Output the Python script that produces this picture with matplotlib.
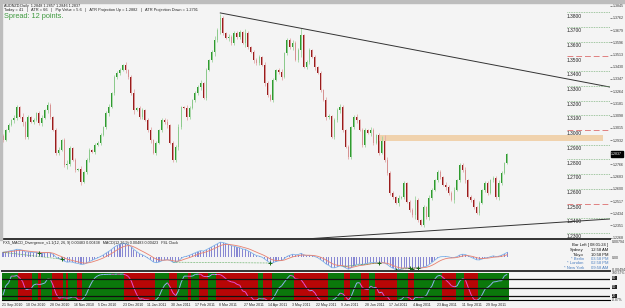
import numpy as np
import matplotlib.pyplot as plt
from matplotlib.patches import Rectangle
from matplotlib.collections import LineCollection

plt.rcParams['font.family'] = ['Liberation Sans', 'DejaVu Sans']

# daily closes (AUDNZD, Sep 2010 - Oct 2011)
closes = [
    1.2932, 1.3000, 1.3034, 1.3068, 1.3082, 1.3156, 1.3088, 1.3054, 1.2952, 1.3088,
    1.3054, 1.3068, 1.3116, 1.3048, 1.3082, 1.3136, 1.3170, 1.3088, 1.3000, 1.2844,
    1.2864, 1.2932, 1.2762, 1.2770, 1.2878, 1.2796, 1.2728, 1.2735, 1.2646, 1.2714,
    1.2796, 1.2864, 1.2850, 1.2898, 1.2912, 1.2966, 1.3020, 1.3116, 1.3156, 1.3252,
    1.3360, 1.3388, 1.3408, 1.3442, 1.3408, 1.3360,
    1.3252, 1.3136, 1.3150, 1.3088, 1.3136, 1.3068, 1.3000, 1.2932, 1.2844, 1.2912,
    1.3000, 1.3068, 1.3054, 1.3034, 1.2912, 1.2796, 1.2884, 1.3020, 1.3156, 1.3150,
    1.3088, 1.3150, 1.3204, 1.3252, 1.3292, 1.3320, 1.3218, 1.3408, 1.3476, 1.3530,
    1.3612, 1.3680, 1.3762, 1.3660, 1.3626, 1.3632, 1.3592, 1.3660, 1.3632, 1.3666,
    1.3592, 1.3660, 1.3564, 1.3530, 1.3476,
    1.3456, 1.3496, 1.3442, 1.3320, 1.3238, 1.3204, 1.3340, 1.3408, 1.3394, 1.3360,
    1.3524, 1.3612, 1.3564, 1.3592, 1.3476, 1.3544, 1.3646, 1.3428, 1.3462, 1.3544,
    1.3496, 1.3428, 1.3388, 1.3272, 1.3204, 1.3088, 1.3095, 1.2952, 1.3068, 1.3136,
    1.3156, 1.3000, 1.2884, 1.2816, 1.3020, 1.3088, 1.3068, 1.3000, 1.2898, 1.3000,
    1.2980, 1.3000, 1.2912, 1.2966, 1.2844,
    1.2952, 1.2796, 1.2708, 1.2572, 1.2544, 1.2504, 1.2538, 1.2544, 1.2640, 1.2510,
    1.2456, 1.2422, 1.2524, 1.2388, 1.2354, 1.2476, 1.2408, 1.2538, 1.2592, 1.2660,
    1.2714, 1.2680, 1.2626, 1.2612, 1.2572, 1.2524, 1.2592, 1.2660, 1.2762, 1.2728,
    1.2660, 1.2544, 1.2524, 1.2476, 1.2436, 1.2504, 1.2592, 1.2640, 1.2572, 1.2660,
    1.2674, 1.2544, 1.2640, 1.2708, 1.2776, 1.2837,
]
first_open = 1.2960
# indicator state carried in from before the first bar (prior uptrend)
prior_fast = 1.2890
prior_slow = 1.2840

# shadow length beyond the body, in pips
wick_pips = [
    12, 9, 15, 8, 20, 11, 7, 25, 10, 14, 9, 16, 8, 12,
    18, 10, 22, 14, 9, 13, 17, 8, 11, 24, 12, 9, 15, 10,
    19, 8, 13, 11, 7, 14, 10, 16, 9, 12, 20, 8, 15, 11,
    13, 9, 18, 10, 12, 27, 9, 14, 11, 8, 16, 21, 10, 13,
    9, 15, 12, 18, 8, 11, 14, 22, 10, 9, 17, 12, 8, 15,
    11, 20, 9, 13, 10, 16, 24, 12, 28, 14, 8, 19, 11, 13,
    10, 15, 9, 28, 12, 8, 17, 11, 14, 9, 22, 13, 10, 16,
    8, 12, 18, 9, 14, 11, 20, 10, 13, 45, 9, 15, 12, 8,
    17, 10, 14, 9, 21, 12, 8, 15, 11, 18, 13, 9, 16, 10,
    12, 23, 9, 14, 11, 8, 19, 13, 10, 15, 9, 12, 17, 11,
    14, 8, 20, 10, 13, 9, 16, 12, 25, 11, 9, 14, 10, 18,
    12, 9, 15, 11, 8, 21, 13, 10, 17, 9, 14, 12, 19, 8,
    11, 16, 10, 13, 9, 15, 12, 8, 14, 10, 18, 11, 9, 7,
]

levels = [1.2300, 1.2400, 1.2500, 1.2600, 1.2700, 1.2800, 1.2900, 1.3000,
          1.3100, 1.3200, 1.3300, 1.3400, 1.3500, 1.3600, 1.3700, 1.3800]
red_levels = [1.2500, 1.3000, 1.3500]
scale_ticks = [1.3845, 1.3762, 1.3679, 1.3596, 1.3513, 1.3430, 1.3347, 1.3264,
               1.3181, 1.3098, 1.3015, 1.2932, 1.2766, 1.2683, 1.2600, 1.2517,
               1.2434, 1.2351, 1.2268]
last_price = "1.2837"

# trend lines (bar, price) and supply zone
upper_line = ([78, 217.9], [1.3796, 1.3292])
lower_line = ([103, 217.9], [1.2252, 1.2395])
zone_bars = (135, 215.4)
zone_prices = (1.2925, 1.2966)

date_labels = ['21 Sep 2010', '10 Oct 2010', '28 Oct 2010', '16 Nov 2010', '5 Dec 2010',
               '23 Dec 2010', '11 Jan 2011', '30 Jan 2011', '17 Feb 2011', '8 Mar 2011',
               '27 Mar 2011', '14 Apr 2011', '3 May 2011', '22 May 2011', '9 Jun 2011',
               '28 Jun 2011', '17 Jul 2011', '4 Aug 2011', '23 Aug 2011', '11 Sep 2011',
               '29 Sep 2011']
date_step = 8.69

div_lines = [(0, 21), (61, 96), (122, 135), (141, 149)]
div_marks = [13, 21, 96, 135, 141, 146, 147, 149]

clock_names = ['Sydney', 'Tokyo', '* Berlin', '* London', '* New York']
clock_times = ['12:58 AM', '10:58 PM', '03:58 PM', '02:58 PM', '09:58 AM']

# ---- candles
c = np.array(closes)
o = np.r_[first_open, c[:-1]]
w = np.array(wick_pips) * 0.0001
hi = np.maximum(o, c) + w
lo = np.minimum(o, c) - w
n = len(c)
x = np.arange(n)
up = c >= o

W, H = 625, 308
fig = plt.figure(figsize=(W / 100, H / 100), dpi=100, facecolor='#f4f4f4')
bg = '#f4f4f4'


def rect(y0, y1):
    return [2 / W, 1 - y1 / H, 608 / W, (y1 - y0) / H]


xlim = (-0.36, 217.9)

ax = fig.add_axes(rect(4, 239))
ax.set_facecolor(bg)
ax.set_xlim(*xlim)
ax.set_ylim(1.22588, 1.38568)

ax.vlines(x, lo, hi, colors=np.where(up, '#9fd49f', '#e3a9a9'), lw=0.6)
body = np.maximum(np.abs(c - o), 0.0004)
ax.bar(x, body, bottom=np.minimum(o, c), width=0.55,
       color=np.where(up, '#2f9a2f', '#981c1c'), lw=0)

ax.plot(*upper_line, color='#333333', lw=0.7)
ax.plot(*lower_line, color='#333333', lw=0.7)
ax.fill_between(zone_bars, zone_prices[0], zone_prices[1], color='#f0d2ad', lw=0)

for lv in levels:
    if lv in red_levels:
        ax.axhline(lv, xmin=0.929, xmax=1, color='#e08080', lw=0.7, dashes=(6, 3))
    else:
        ax.axhline(lv, xmin=0.929, xmax=1, color='#6aa86a', lw=0.6, dashes=(0.8, 1.2))
    ax.text(0.929, lv - 0.0008, f'{lv:.4f}', transform=ax.get_yaxis_transform(),
            fontsize=3.5, va='top', ha='left', color='#222222')

ax.yaxis.tick_right()
ax.set_yticks(scale_ticks)
ax.set_yticklabels([f'{t:.4f}' for t in scale_ticks])
ax.tick_params(axis='y', labelsize=2.6, length=1.5, width=0.4, pad=0.8, colors='#333333')
ax.set_xticks([])
ax.text(1.002, c[-1], last_price, transform=ax.get_yaxis_transform(), fontsize=2.6,
        color='white', va='center', ha='left',
        bbox=dict(boxstyle='square,pad=0.15', fc='black', ec='black'))
for s in ['top', 'left', 'right']:
    ax.spines[s].set_visible(False)
ax.spines['bottom'].set_color('#333333')
ax.spines['bottom'].set_linewidth(1.4)

# ---- MACD panel
def ema(v, p, start):
    out = np.empty_like(v)
    a = 2 / (p + 1)
    prev = start
    for i in range(len(v)):
        prev = a * v[i] + (1 - a) * prev
        out[i] = prev
    return out


macd = ema(c, 8, prior_fast) - ema(c, 17, prior_slow)
sig = ema(macd, 6, macd[0])

ax2 = fig.add_axes(rect(241, 271))
ax2.set_facecolor(bg)
ax2.set_xlim(*xlim)
top = max(macd.max(), sig.max()) * 1.08
bot = min(macd.min(), sig.min()) * 1.1
ax2.set_ylim(bot, top)
ax2.bar(x, macd, width=0.4, color='#8787d2', lw=0)
ax2.plot(x, macd, color='#7fb2e8', lw=0.6)
ax2.plot(x, sig, color='#e8806f', lw=0.6)
for a, b in div_lines:
    ax2.plot([a, b], [macd[a], macd[b]], color='#3a9a3a', lw=0.5, ls=(0, (1, 1.2)))
ax2.plot(div_marks, macd[div_marks], '+', color='#1a6a1a', ms=3, mew=0.7)
ax2.set_xticks([])
ax2.set_yticks([])
for s in ['top', 'left', 'right']:
    ax2.spines[s].set_visible(False)
ax2.spines['bottom'].set_color('#333333')
ax2.spines['bottom'].set_linewidth(1.4)
ax2.text(0.002, 0.92, 'FX5_MACD_Divergence_v1.1(12, 26, 9) 0.00483 0.00438   MACD(12,26,9) 0.00483 0.00423   P4L Clock',
         transform=ax2.transAxes, fontsize=2.7, va='center', ha='left', color='#222222')
ax2.text(0.997, 0.86, 'Bar Left [ 08:01:24 ]', transform=ax2.transAxes,
         fontsize=3.0, ha='right', va='center', color='#111111')
ys = [0.70, 0.54, 0.40, 0.25, 0.11]
for k, (nm, tm) in enumerate(zip(clock_names, clock_times)):
    col = '#111111' if k < 2 else '#4a7ec0'
    ax2.text(0.957, ys[k], nm, transform=ax2.transAxes, fontsize=3.0,
             ha='right', va='center', color=col)
    ax2.text(0.997, ys[k], tm, transform=ax2.transAxes, fontsize=3.0,
             ha='right', va='center', color=col)
fig.text(612 / W, 1 - 242 / H, '0.00794', fontsize=2.5, va='center', color='#333333')
fig.text(612 / W, 1 - 258 / H, '0.00', fontsize=2.5, va='center', color='#333333')
fig.text(612 / W, 1 - 270 / H, '-0.00494', fontsize=2.5, va='center', color='#333333')

# ---- oscillator panel (stochastic-style, coloured by %K vs %D)
k_raw = np.empty(n)
for i in range(n):
    j = max(0, i - 9)
    h8, l8 = hi[j:i + 1].max(), lo[j:i + 1].min()
    k_raw[i] = 100 * (c[i] - l8) / (h8 - l8)
osc = k_raw.copy()
for i in range(1, n):
    osc[i] = k_raw[max(0, i - 2):i + 1].mean()
sig_d = osc.copy()
for i in range(1, n):
    sig_d[i] = osc[max(0, i - 2):i + 1].mean()
bull = osc >= sig_d
rising = np.r_[True, np.diff(osc) >= 0]

ax3 = fig.add_axes(rect(273, 300))
ax3.set_facecolor(bg)
ax3.set_xlim(*xlim)
ax3.set_ylim(6, 102)
ax3.bar(x, 120, bottom=-10, width=1.0, lw=0,
        color=np.where(bull, '#0b780b', '#b80606'))
segs = np.stack([np.c_[x[:-1], osc[:-1]], np.c_[x[1:], osc[1:]]], axis=1)
ax3.add_collection(LineCollection(segs, colors=np.where(rising[1:], '#8fb4f0', '#e64fd6'), lw=0.7))
for lv in [80, 50, 20]:
    ax3.axhline(lv, color='#111111', lw=0.9)
ax3.set_xticks([])
ax3.set_yticks([])
for s in ['top', 'left', 'right']:
    ax3.spines[s].set_visible(False)
for lv, yy in [('80', 278), ('50', 287), ('20', 296)]:
    fig.text(612 / W, 1 - yy / H, lv, fontsize=2.8, va='center', color='white',
             bbox=dict(boxstyle='square,pad=0.1', fc='#222222', ec='none'))
fig.text(612 / W, 1 - 273 / H, '100.57%', fontsize=2.4, va='center', color='#333333')
fig.text(612 / W, 1 - 300 / H, '-0.87%', fontsize=2.4, va='center', color='#333333')

# date axis
for k, lab in enumerate(date_labels):
    ax3.text(-0.5 + k * date_step, -0.2, lab, transform=ax3.get_xaxis_transform(),
             fontsize=2.5, ha='left', va='center', color='#222222')

# header texts
fig.patches.append(Rectangle((0, 1 - 3 / H), 1, 3 / H, transform=fig.transFigure,
                             color='#bdbdbd', zorder=0))
fig.patches.append(Rectangle((0, 1 - 240 / H), 2 / W, 237 / H, transform=fig.transFigure,
                             color='#bdbdbd', zorder=0))
fig.text(4 / W, 1 - 6 / H, 'AUDNZD,Daily  1.2848 1.2857 1.2846 1.2837', fontsize=2.7,
         va='center', color='#222222')
fig.text(4 / W, 1 - 10.5 / H,
         'Today = 41   |   ATR = 66   |   Pip Value = 5.6   |   ATR Projection Up = 1.2882   |   ATR Projection Down = 1.2791',
         fontsize=2.8, va='center', color='#222222')
fig.text(4 / W, 1 - 16.5 / H, 'Spread: 12 points.', fontsize=5.3, va='center', color='#3f9a3f')

fig.savefig('out.png', dpi=100, facecolor=fig.get_facecolor())
